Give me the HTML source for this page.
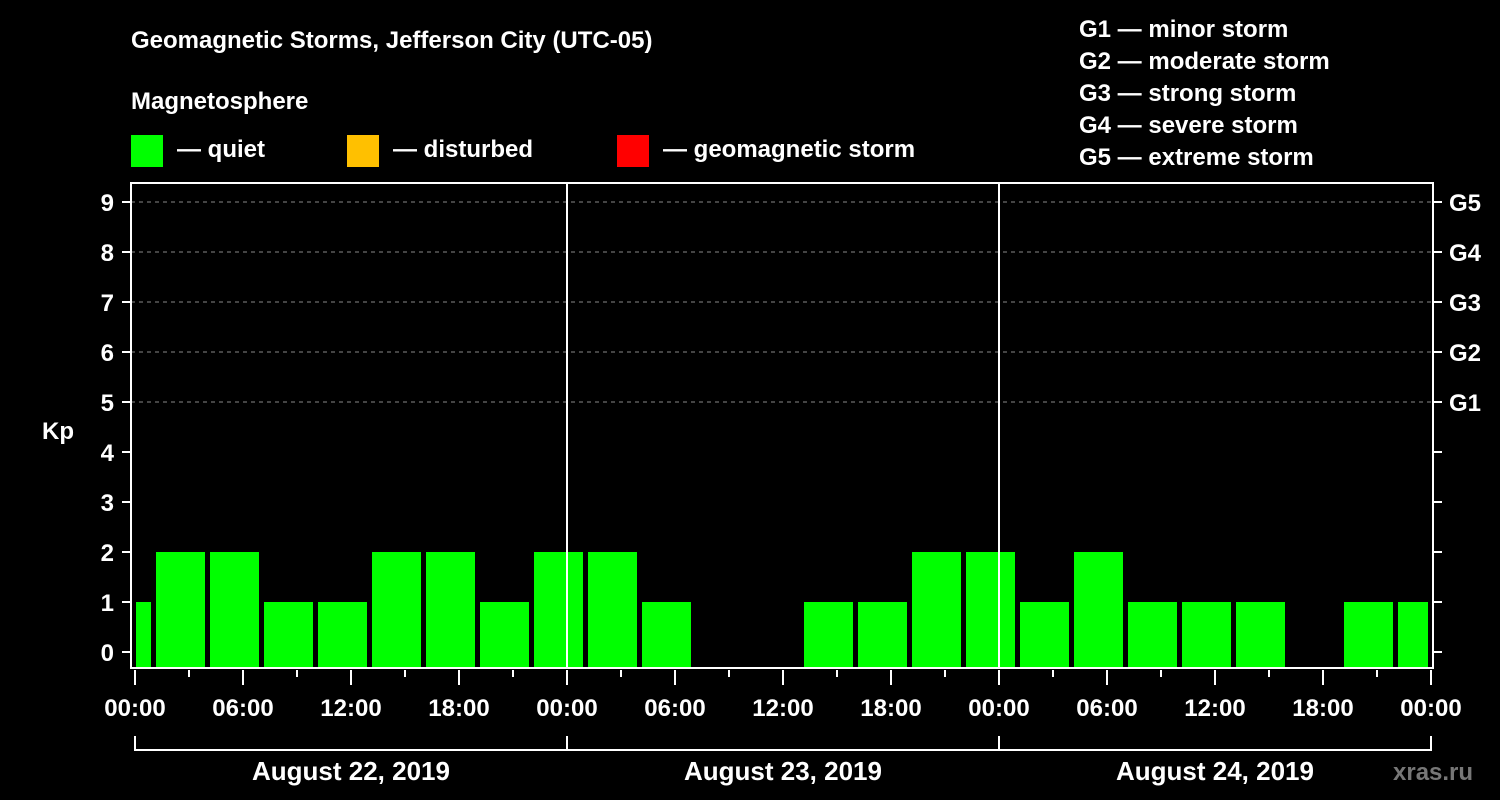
<!DOCTYPE html>
<html><head><meta charset="utf-8"><style>
html,body{margin:0;padding:0;background:#000;width:1500px;height:800px;overflow:hidden}
svg text{font-family:"Liberation Sans",Arial,sans-serif;font-weight:bold;fill:#fff}
</style></head><body>
<svg id="chart" width="1500" height="800" viewBox="0 0 1500 800">
<text x="131" y="48" font-size="24">Geomagnetic Storms, Jefferson City (UTC-05)</text>
<text x="131" y="109" font-size="24">Magnetosphere</text>
<g><rect x="131" y="135" width="32" height="32" fill="#00ff00"/><text x="177" y="157" font-size="24">— quiet</text></g>
<g><rect x="347" y="135" width="32" height="32" fill="#ffc000"/><text x="393" y="157" font-size="24">— disturbed</text></g>
<g><rect x="617" y="135" width="32" height="32" fill="#ff0000"/><text x="663" y="157" font-size="24">— geomagnetic storm</text></g>
<g font-size="24">
<text x="1079" y="37">G1 — minor storm</text>
<text x="1079" y="69">G2 — moderate storm</text>
<text x="1079" y="101">G3 — strong storm</text>
<text x="1079" y="133">G4 — severe storm</text>
<text x="1079" y="165">G5 — extreme storm</text>
</g>
<g id="grid"></g>
<g id="bars"></g>
<g id="axes"></g>
<text x="42" y="439" font-size="24">Kp</text>
<text x="1393" y="780" font-size="24" fill="#777" style="fill:#777">xras.ru</text>
</svg>
<script>
const kpValues = [1,2,2,1,1,2,2,1,2, 2,1,0,0,1,1,2,2, 1,2,1,1,1,0,1,1];
const dayLabels = ["August 22, 2019","August 23, 2019","August 24, 2019"];
const hourLabels = ["00:00","06:00","12:00","18:00"];
const gLabels = ["G1","G2","G3","G4","G5"];
const NS="http://www.w3.org/2000/svg";
const X0=135, PXH=18, Y0=652, PXK=50, LEFT=131, RIGHT=1433, TOP=183, BOTTOM=668;
const xH=h=>X0+h*PXH, yK=k=>Y0-k*PXK;
function mk(tag,attrs,parent){const e=document.createElementNS(NS,tag);for(const k in attrs)e.setAttribute(k,attrs[k]);parent.appendChild(e);return e;}
const grid=document.getElementById('grid'),bars=document.getElementById('bars'),axes=document.getElementById('axes');
for(let k=5;k<=9;k++){const l=mk('line',{x1:LEFT,x2:RIGHT,y1:yK(k),y2:yK(k),stroke:'#888','stroke-dasharray':'4,4','stroke-width':1},grid);

}
const total=72;
kpValues.forEach((v,i)=>{
  if(v<=0)return;
  let s=-2+3*i, e=s+3;
  let x1=xH(s)+3, x2=xH(e)-2;
  x1=Math.max(x1,xH(0)+1); x2=Math.min(x2,xH(total)-3);
  const r=mk('rect',{x:x1,y:yK(v),width:x2-x1,height:BOTTOM-1-yK(v),fill:v>=5?'#ff0000':(v>=4?'#ffc000':'#00ff00')},bars);
  
  
});
// frame
const f=mk('rect',{x:LEFT,y:TOP,width:RIGHT-LEFT,height:BOTTOM-TOP,fill:'none',stroke:'#fff','stroke-width':2},axes);


for(let d=1;d<3;d++){const l=mk('line',{x1:xH(24*d),x2:xH(24*d),y1:TOP,y2:BOTTOM,stroke:'#fff','stroke-width':2},axes);

}
for(let k=0;k<=9;k++){
  mk('line',{x1:122,x2:LEFT,y1:yK(k),y2:yK(k),stroke:'#fff','stroke-width':2},axes);
  mk('line',{x1:RIGHT,x2:1442,y1:yK(k),y2:yK(k),stroke:'#fff','stroke-width':2},axes);
  const t=mk('text',{x:114,y:yK(k)+9,'font-size':24,'text-anchor':'end'},axes);t.textContent=k;
  
  
}
gLabels.forEach((g,i)=>{const t=mk('text',{x:1449,y:yK(5+i)+9,'font-size':24},axes);t.textContent=g;

});
for(let h=0;h<=total;h+=3){
  const major=h%6===0;
  mk('line',{x1:xH(h),x2:xH(h),y1:670,y2:major?685:677,stroke:'#fff','stroke-width':2},axes);
  if(major){const t=mk('text',{x:xH(h),y:716,'font-size':24,'text-anchor':'middle'},axes);t.textContent=hourLabels[(h/6)%4];
  
  }
}
mk('path',{d:`M${xH(0)} 736 V750 H${xH(72)} V736`,fill:'none',stroke:'#fff','stroke-width':2},axes);
for(let d=1;d<3;d++)mk('line',{x1:xH(24*d),x2:xH(24*d),y1:736,y2:750,stroke:'#fff','stroke-width':2},axes);
dayLabels.forEach((s,i)=>{const t=mk('text',{x:xH(24*i+12),y:780,'font-size':26,'text-anchor':'middle'},axes);t.textContent=s;

});
</script>
</body></html>
